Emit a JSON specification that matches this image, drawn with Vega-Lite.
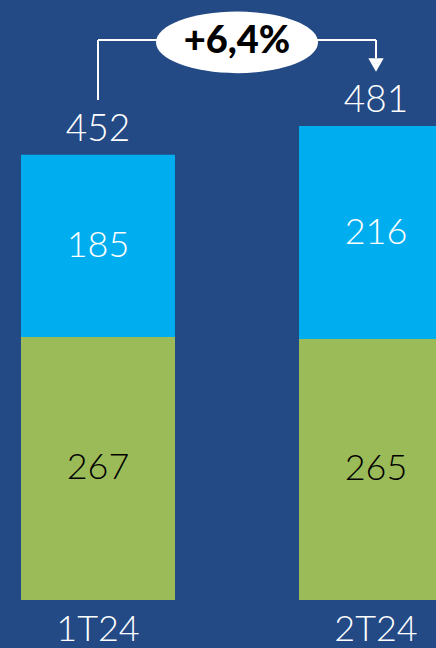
{
  "$schema": "https://vega.github.io/schema/vega-lite/v6.json",
  "width": 436,
  "height": 600,
  "autosize": {"type": "none"},
  "padding": {"left": 0, "top": 0, "right": 0, "bottom": 48},
  "background": "#234a85",
  "config": {"view": {"stroke": null}},
  "datasets": {
    "bars": [
      {"q": "1T24", "seg": "s1", "v": 267},
      {"q": "1T24", "seg": "s2", "v": 185},
      {"q": "2T24", "seg": "s1", "v": 265},
      {"q": "2T24", "seg": "s2", "v": 216}
    ],
    "totals": [
      {"q": "1T24", "total": 452},
      {"q": "2T24", "total": 481}
    ],
    "connector": [
      {"q": "1T24", "q2": "1T24", "y1": 507.5, "y2": 568.4},
      {"q": "1T24", "q2": "2T24", "y1": 568.4, "y2": 568.4},
      {"q": "2T24", "q2": "2T24", "y1": 568.4, "y2": 550}
    ],
    "badge": [{"q": "1T24", "y": 566, "label": "+6,4%"}],
    "arrow": [{"q": "2T24", "y": 543}]
  },
  "layer": [
    {
      "data": {"name": "bars"},
      "mark": {"type": "bar"},
      "encoding": {
        "x": {
          "field": "q", "type": "nominal",
          "scale": {"range": [21, 453], "paddingInner": 0.446, "paddingOuter": 0},
          "axis": {"title": null, "domain": false, "ticks": false, "tickSize": 0, "labelAngle": 0,
                   "labelColor": "white", "labelFont": "Lato", "labelFontWeight": 300, "labelFontSize": 36,
                   "labelBaseline": "alphabetic", "labelPadding": 40}
        },
        "y": {"field": "v", "type": "quantitative", "stack": "zero",
              "scale": {"domain": [0, 609], "nice": false}, "axis": null},
        "color": {"field": "seg", "type": "nominal",
                  "scale": {"domain": ["s1", "s2"], "range": ["#9bbb59", "#00aeef"]}, "legend": null},
        "order": {"field": "seg", "sort": "ascending"}
      }
    },
    {
      "data": {"name": "bars"},
      "mark": {"type": "text", "font": "Lato", "fontWeight": 300, "fontSize": 36, "baseline": "middle", "align": "center"},
      "encoding": {
        "x": {"field": "q", "type": "nominal"},
        "y": {"field": "v", "type": "quantitative", "stack": "zero", "bandPosition": 0.5},
        "detail": {"field": "seg"},
        "order": {"field": "seg", "sort": "ascending"},
        "text": {"field": "v"},
        "color": {"condition": {"test": "datum.seg === 's2'", "value": "white"}, "value": "black"}
      }
    },
    {
      "data": {"name": "totals"},
      "mark": {"type": "text", "font": "Lato", "fontWeight": 300, "fontSize": 37, "baseline": "alphabetic", "align": "center", "dy": -14, "color": "white"},
      "encoding": {
        "x": {"field": "q", "type": "nominal"},
        "y": {"field": "total", "type": "quantitative"},
        "text": {"field": "total"}
      }
    },
    {
      "data": {"name": "connector"},
      "mark": {"type": "rule", "color": "white", "strokeWidth": 2},
      "encoding": {
        "x": {"field": "q", "type": "nominal", "bandPosition": 0.5},
        "x2": {"field": "q2"},
        "y": {"field": "y1", "type": "quantitative"},
        "y2": {"field": "y2"}
      }
    },
    {
      "data": {"name": "badge"},
      "mark": {"type": "point", "filled": true, "fill": "white", "opacity": 1, "strokeWidth": 0,
               "shape": "M -1 0 C -1 -0.2099 -0.5523 -0.38 0 -0.38 C 0.5523 -0.38 1 -0.2099 1 0 C 1 0.2099 0.5523 0.38 0 0.38 C -0.5523 0.38 -1 0.2099 -1 0 Z",
               "size": 26244},
      "encoding": {
        "x": {"field": "q", "type": "nominal", "bandPosition": 1.4026},
        "y": {"field": "y", "type": "quantitative"}
      }
    },
    {
      "data": {"name": "badge"},
      "mark": {"type": "text", "font": "Lato", "fontWeight": 900, "fontSize": 38, "baseline": "middle", "align": "center", "color": "black"},
      "encoding": {
        "x": {"field": "q", "type": "nominal", "bandPosition": 1.4026},
        "y": {"field": "y", "type": "quantitative"},
        "text": {"field": "label"}
      }
    },
    {
      "data": {"name": "arrow"},
      "mark": {"type": "point", "shape": "triangle-down", "filled": true, "fill": "white", "opacity": 1, "size": 237, "strokeWidth": 0},
      "encoding": {
        "x": {"field": "q", "type": "nominal"},
        "y": {"field": "y", "type": "quantitative"}
      }
    }
  ]
}
